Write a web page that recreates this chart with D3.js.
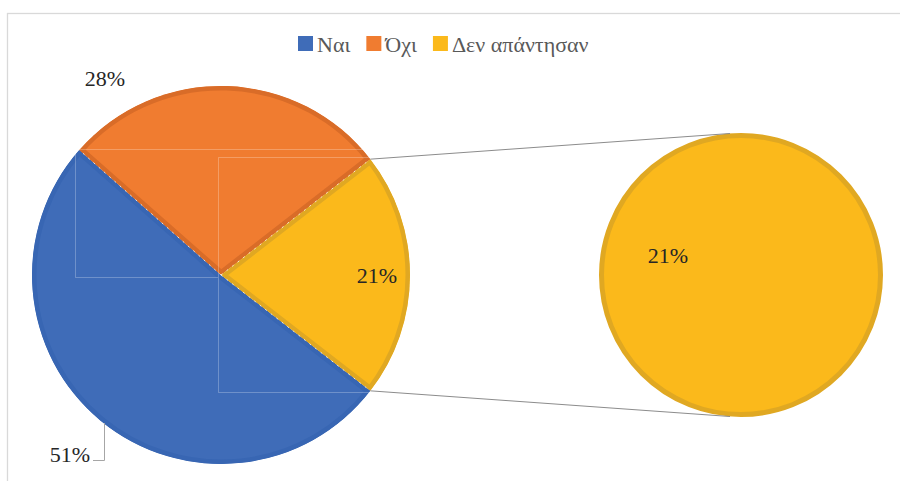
<!DOCTYPE html>
<html>
<head>
<meta charset="utf-8">
<script src="https://cdn.jsdelivr.net/npm/d3@7"></script>
</head>
<body style="margin:0">
<svg id="chart" width="900" height="481" style="display:block"></svg>
<script>
// ---- data ----
const categories = ["Ναι", "Όχι", "Δεν απάντησαν"];
const values = [51, 28, 21];
const labels = ["51%", "28%", "21%"];
const fillColors = ["#3f6cb8", "#f07c30", "#fbb91b"];
const strokeColors = ["#3866b3", "#d96c28", "#e0a822"];
const splitIndex = 2; // slice shown in the secondary pie

const FONT = "Liberation Serif";
const svg = d3.select("#chart");
svg.style("font-family", "'Liberation Serif', serif", "important");

// chart border (extends past the window on right/bottom)
svg.append("rect")
  .attr("x", 7.5).attr("y", 13.5)
  .attr("width", 1000).attr("height", 1000)
  .attr("fill", "none").attr("stroke", "#d9d9d9").attr("stroke-width", 1.3);

// ---- main pie ----
const cx = 221, cy = 275, R = 189;
const total = d3.sum(values);
const splitAngle = values[splitIndex] / total * 2 * Math.PI;
const start = Math.PI / 2 + splitAngle / 2;

const pie = d3.pie().sort(null).value(d => d)
  .startAngle(start).endAngle(start + 2 * Math.PI);
const arcs = pie(values);
const arc = d3.arc().innerRadius(0).outerRadius(R);

const defs = svg.append("defs");
arcs.forEach((d, i) => {
  defs.append("clipPath").attr("id", "clip" + i)
    .append("path").attr("d", arc(d));
});

const gMain = svg.append("g").attr("transform", `translate(${cx},${cy})`);
gMain.selectAll("path.slice")
  .data(arcs)
  .join("path")
  .attr("class", "slice")
  .attr("d", arc)
  .attr("clip-path", (d, i) => `url(#clip${i})`)
  .attr("fill", (d, i) => fillColors[i])
  .attr("stroke", (d, i) => strokeColors[i])
  .attr("stroke-width", 9)
  .attr("stroke-linejoin", "round");

// thin white separators
gMain.selectAll("line.sep")
  .data(arcs)
  .join("line")
  .attr("class", "sep")
  .attr("x1", 0).attr("y1", 0)
  .attr("x2", d => Math.sin(d.startAngle) * (R - 4))
  .attr("y2", d => -Math.cos(d.startAngle) * (R - 4))
  .attr("stroke", "#ffffff").attr("stroke-width", 1)
  .attr("stroke-dasharray", "2,5").attr("opacity", 0.75);

// ---- secondary pie ----
const cx2 = 741, cy2 = 275, R2 = 142;
const pie2 = d3.pie().sort(null).value(d => d);
const arcs2 = pie2([values[splitIndex]]);
const arc2 = d3.arc().innerRadius(0).outerRadius(R2 - 2.5);
const gSec = svg.append("g").attr("transform", `translate(${cx2},${cy2})`);
gSec.selectAll("path")
  .data(arcs2)
  .join("path")
  .attr("d", arc2)
  .attr("fill", fillColors[splitIndex])
  .attr("stroke", strokeColors[splitIndex])
  .attr("stroke-width", 5);

// ---- connector lines ----
const sa = arcs[splitIndex];
const p1 = [cx + Math.sin(sa.startAngle) * R, cy - Math.cos(sa.startAngle) * R];
const p2 = [cx + Math.sin(sa.endAngle) * R, cy - Math.cos(sa.endAngle) * R];
const q1 = [cx2 - 11, cy2 - R2 + 0.5];
const q2 = [cx2 - 11, cy2 + R2 - 0.5];
svg.append("line")
  .attr("x1", p1[0]).attr("y1", p1[1]).attr("x2", q1[0]).attr("y2", q1[1])
  .attr("stroke", "#8c8c8c").attr("stroke-width", 1);
svg.append("line")
  .attr("x1", p2[0]).attr("y1", p2[1]).attr("x2", q2[0]).attr("y2", q2[1])
  .attr("stroke", "#8c8c8c").attr("stroke-width", 1);

// faint overlay frames (as in the reference)
const frame = svg.append("g").attr("fill", "none")
  .attr("stroke", "rgba(255,255,255,0.25)").attr("stroke-width", 1);
frame.append("path").attr("d", "M75.5,149.5 H372 M75.5,149.5 V277.5 H218");
frame.append("path").attr("d", "M218.5,157.5 H370 M218.5,157.5 V392.5 H372");

// ---- data labels ----
const labelFont = 22;
function label(x, y, t) {
  svg.append("text").attr("x", x).attr("y", y)
    .attr("text-anchor", "middle").attr("font-size", labelFont)
    .attr("font-family", FONT)
    .style("font-family", "'Liberation Serif', serif", "important")
    .attr("fill", "#262626")
    .text(t);
}
label(105, 86, labels[1]);
label(377, 283, labels[2]);
label(70, 462, labels[0]);
label(668, 263, labels[2]);

// leader line for 51%
svg.append("polyline")
  .attr("points", "93,460.5 104.5,460.5 104.5,423")
  .attr("fill", "none").attr("stroke", "#a6a6a6").attr("stroke-width", 1);

// ---- legend ----
const legendFont = 22;
const legend = svg.append("g").attr("transform", "translate(0,44)");
const items = [];
let x = 0;
const tmp = svg.append("text").attr("font-size", legendFont)
  .attr("font-family", FONT)
  .style("font-family", "'Liberation Serif', serif", "important");
categories.forEach((c, i) => {
  tmp.text(c);
  const w = tmp.node().getComputedTextLength();
  items.push({ c, i, x, w });
  x += 15 + 5 + w + 15;
});
tmp.remove();
const lx0 = 298;
const lg = legend.selectAll("g").data(items).join("g")
  .attr("transform", d => `translate(${lx0 + d.x},0)`);
lg.append("rect").attr("x", 0).attr("y", -8).attr("width", 15).attr("height", 15)
  .attr("fill", d => fillColors[d.i]);
lg.append("text").attr("x", 19).attr("y", 7.5)
  .attr("font-size", legendFont)
  .attr("font-family", FONT)
  .style("font-family", "'Liberation Serif', serif", "important")
  .attr("fill", "#595959")
  .text(d => d.c);
</script>
</body>
</html>
